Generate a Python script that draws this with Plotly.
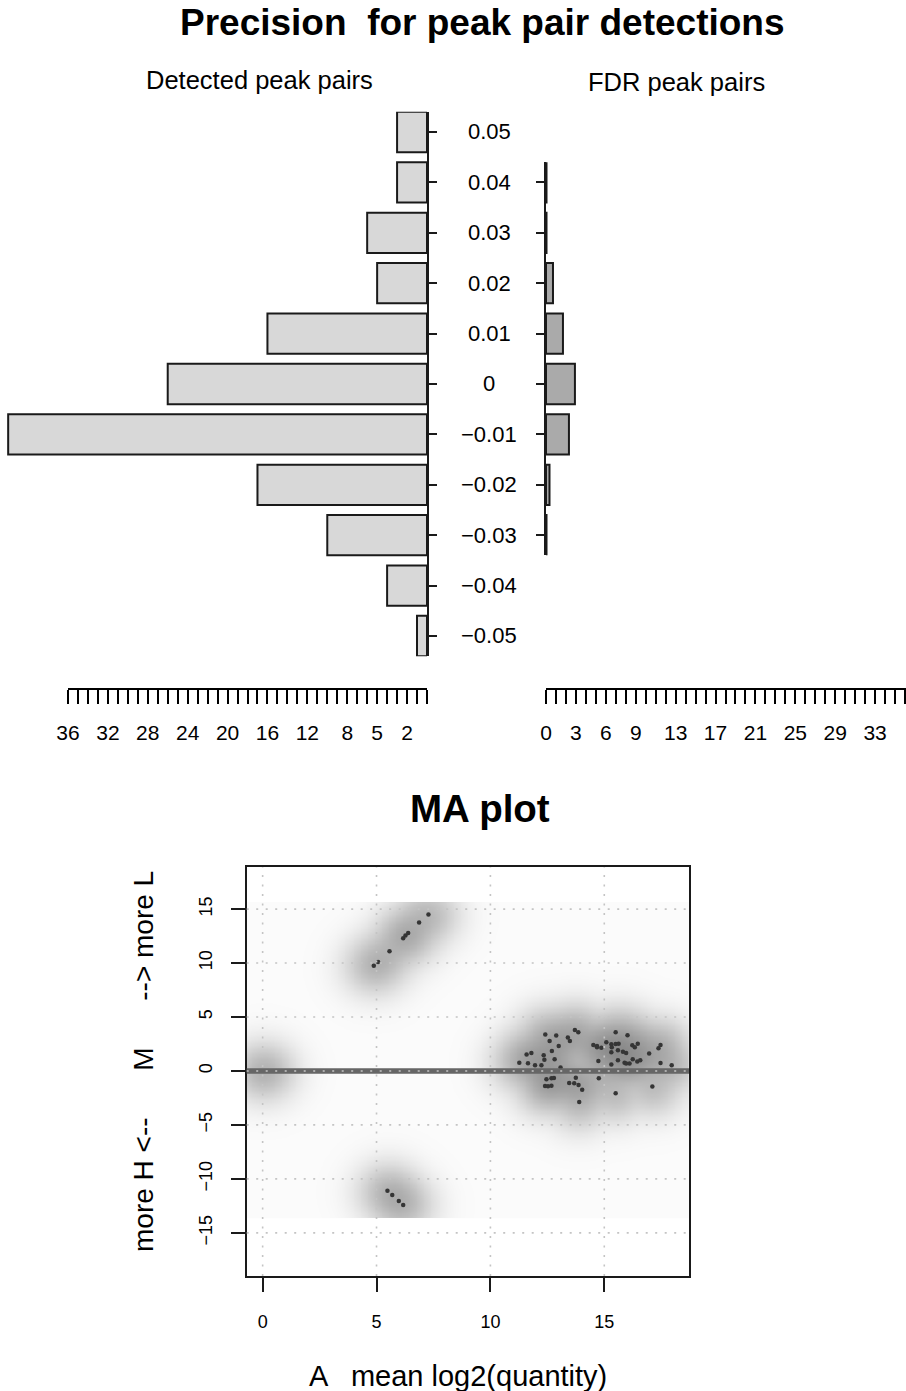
import numpy as np
import plotly.graph_objects as go

W, H = 906, 1391
def PX(p): return p / W
def PY(p): return 1 - p / H

# ---------------- data ----------------
bins = [0.05, 0.04, 0.03, 0.02, 0.01, 0.0, -0.01, -0.02, -0.03, -0.04, -0.05]
bin_labels = ["0.05", "0.04", "0.03", "0.02", "0.01", "0", "\u22120.01", "\u22120.02", "\u22120.03", "\u22120.04", "\u22120.05"]
detected_counts = [3, 3, 6, 5, 16, 26, 42, 17, 10, 4, 1]

fdr_bins = [0.04, 0.03, 0.02, 0.01, 0.0, -0.01, -0.02, -0.03]
fdr_counts = [0.05, 0.05, 0.7, 1.7, 2.9, 2.3, 0.35, 0.05]

left_ruler_labels = [36, 32, 28, 24, 20, 16, 12, 8, 5, 2]
right_ruler_labels = [0, 3, 6, 9, 13, 17, 21, 25, 29, 33]
ruler_max = 36

# MA plot points (A = mean log2 quantity, M)
ma_A = [4.88, 5.07, 5.57, 6.17, 6.27, 6.39, 6.87, 7.28,
        5.48, 5.69, 5.98, 6.17,
        12.41, 12.60, 12.89, 13.40, 13.49, 13.71, 13.86, 13.00, 12.70, 11.59,
        11.80, 12.34, 12.37, 12.82, 11.27, 11.65, 11.96, 12.24, 13.08, 12.46,
        12.68, 12.79, 13.75, 13.46, 13.68, 13.87, 14.03, 12.40, 12.53, 12.68,
        13.90, 14.52, 14.68, 14.74, 14.76,
        15.50, 16.02, 14.68, 14.87, 15.09, 15.31, 15.33, 15.50, 15.63, 15.31,
        15.60, 15.82, 15.96, 16.23, 16.34, 16.47, 17.38, 17.47, 16.97, 15.31,
        15.60, 15.89, 15.96, 16.11, 16.25, 16.45, 16.58, 17.47, 17.96, 17.11,
        15.50]
ma_M = [9.74, 10.10, 11.10, 12.30, 12.56, 12.78, 13.76, 14.50,
        -11.10, -11.50, -12.06, -12.43,
        3.37, 2.78, 3.28, 3.09, 2.78, 3.80, 3.59, 2.32, 1.86, 1.52,
        1.67, 1.45, 1.05, 1.08, 0.77, 0.71, 0.53, 0.53, 0.31, -0.77,
        -0.68, -0.65, -0.62, -1.11, -1.14, -1.30, -1.73, -1.39, -1.42, -1.36,
        -2.88, 2.41, 2.20, 0.93, -0.68,
        3.59, 3.31, 2.32, 2.16, 2.66, 2.48, 2.20, 2.50, 2.53, 1.73,
        1.92, 1.79, 1.67, 2.38, 2.20, 2.53, 2.10, 2.41, 1.61, 0.59,
        0.99, 0.77, 0.68, 0.68, 1.08, 0.87, 0.99, 0.74, 0.53, -1.45,
        -2.07]
# points hidden under the M = 0 line near A = 0
zero_A = [0.0, 0.1]
zero_M = [0.0, 0.0]

ma_xticks = [0, 5, 10, 15]
ma_yticks = [-15, -10, -5, 0, 5, 10, 15]
ma_xrange = [-0.7, 18.72]
ma_yrange = [-19.0, 18.9]

FONT = "Liberation Sans, Arial, sans-serif"

fig = go.Figure()

# ---------------- top: bars ----------------
bw = 0.008
fig.add_trace(go.Bar(y=bins, x=detected_counts, orientation="h", width=bw,
                     marker=dict(color="#d8d8d8", line=dict(color="#1a1a1a", width=2)),
                     xaxis="x", yaxis="y", showlegend=False, hoverinfo="skip"))
fig.add_trace(go.Bar(y=fdr_bins, x=fdr_counts, orientation="h", width=bw,
                     marker=dict(color="#aaaaaa", line=dict(color="#1a1a1a", width=2)),
                     xaxis="x2", yaxis="y2", showlegend=False, hoverinfo="skip"))
# ruler dummy traces
fig.add_trace(go.Scatter(x=[], y=[], xaxis="x3", yaxis="y3", showlegend=False))
fig.add_trace(go.Scatter(x=[], y=[], xaxis="x4", yaxis="y4", showlegend=False))

# y scale: 0.05 at 132 px, -0.05 at 636 px
ppu = (636 - 132) / 0.10
def ypix(v): return 132 + (0.05 - v) * ppu

l_top, l_bot = max(bins) + bw / 2, min(bins) - bw / 2
r_top, r_bot = max(fdr_bins) + bw / 2, min(fdr_bins) - bw / 2

# x scale: 0 at 427 px, 36 at 68 px (left); 0 at 546 px (right)
xppu = (427 - 68) / ruler_max
left_range_max = 427 / xppu
right_range_max = (W - 546) / xppu

ruler_ticks = list(range(0, ruler_max + 1))

layout = dict(
    width=W, height=H, margin=dict(l=0, r=0, t=0, b=0, autoexpand=False),
    paper_bgcolor="white", plot_bgcolor="rgba(0,0,0,0)",
    font=dict(family=FONT, color="black"),
    xaxis=dict(domain=[0, PX(427)], range=[left_range_max, 0], visible=False,
               automargin=False),
    yaxis=dict(domain=[PY(ypix(l_bot)), PY(ypix(l_top))], range=[l_bot, l_top], anchor="x",
               side="right", showline=True, linecolor="#1a1a1a", linewidth=2,
               ticks="outside", ticklen=8, tickwidth=2, tickcolor="#1a1a1a",
               tickvals=bins, showticklabels=False, showgrid=False, zeroline=False,
               automargin=False),
    xaxis2=dict(domain=[PX(546), 1], range=[0, right_range_max], visible=False, anchor="y2",
                automargin=False),
    yaxis2=dict(domain=[PY(ypix(r_bot)), PY(ypix(r_top))], range=[r_bot, r_top], anchor="x2",
                side="left", showline=True, linecolor="#1a1a1a", linewidth=2,
                ticks="outside", ticklen=8, tickwidth=2, tickcolor="#1a1a1a",
                tickvals=fdr_bins, showticklabels=False, showgrid=False, zeroline=False,
                automargin=False),
    xaxis3=dict(domain=[PX(68), PX(427)], range=[ruler_max, 0], anchor="y3",
                showline=True, linecolor="black", linewidth=1.5,
                ticks="outside", ticklen=14, tickwidth=1.5, tickcolor="black",
                tickvals=ruler_ticks,
                ticktext=[str(v) if v in left_ruler_labels else "" for v in ruler_ticks],
                tickfont=dict(size=21, family=FONT), ticklabelstandoff=11,
                showgrid=False, zeroline=False, automargin=False),
    yaxis3=dict(domain=[PY(688), PY(670)], visible=False, anchor="x3", automargin=False),
    xaxis4=dict(domain=[PX(546), 1], range=[0, right_range_max], anchor="y4",
                showline=True, linecolor="black", linewidth=1.5,
                ticks="outside", ticklen=14, tickwidth=1.5, tickcolor="black",
                tickvals=ruler_ticks,
                ticktext=[str(v) if v in right_ruler_labels else "" for v in ruler_ticks],
                tickfont=dict(size=21, family=FONT), ticklabelstandoff=11,
                showgrid=False, zeroline=False, automargin=False),
    yaxis4=dict(domain=[PY(688), PY(670)], visible=False, anchor="x4", automargin=False),
    xaxis5=dict(domain=[PX(246.7), PX(689)], range=ma_xrange, anchor="y5",
                showline=True, mirror=True, linecolor="#1a1a1a", linewidth=2,
                ticks="outside", ticklen=14, tickwidth=2, tickcolor="#1a1a1a",
                tickvals=ma_xticks, tickfont=dict(size=18, family=FONT),
                ticklabelstandoff=14, showgrid=False, zeroline=False, automargin=False),
    yaxis5=dict(domain=[PY(1276), PY(867)], range=ma_yrange, anchor="x5",
                showline=True, mirror=True, linecolor="#1a1a1a", linewidth=2,
                ticks="outside", ticklen=14, tickwidth=2, tickcolor="#1a1a1a",
                tickvals=ma_yticks, tickangle=-90, tickfont=dict(size=18, family=FONT),
                ticklabelstandoff=12, showgrid=False, zeroline=False, automargin=False),
)
fig.update_layout(**layout)

# ---------------- MA plot: smoothed density ----------------
allA = np.array(ma_A + zero_A)
allM = np.array(ma_M + zero_M)
bwA, bwM = 0.5, 1.0
gx = np.linspace(allA.min() - 1.0, allA.max() + 1.0, 260)
gy = np.linspace(allM.min() - 1.1, allM.max() + 1.1, 260)
GX, GY = np.meshgrid(gx, gy)
dens = np.zeros_like(GX)
for a, m in zip(allA, allM):
    dens += np.exp(-0.5 * ((GX - a) / bwA) ** 2 - 0.5 * ((GY - m) / bwM) ** 2)
z = (dens / dens.max()) ** 0.25
fig.add_trace(go.Heatmap(x=gx, y=gy, z=z, xaxis="x5", yaxis="y5", zmin=0, zmax=1,
                         colorscale=[[0, "#fbfbfb"], [1, "#8a8a8a"]], showscale=False,
                         zsmooth="best", hoverinfo="skip"))
fig.add_trace(go.Scatter(x=ma_A, y=ma_M, mode="markers", xaxis="x5", yaxis="y5",
                         marker=dict(size=4.5, color="#353535"), showlegend=False, hoverinfo="skip"))

shapes = []
# M = 0 line
shapes.append(dict(type="line", xref="x5 domain", yref="y5", x0=0, x1=1, y0=0, y1=0,
                   line=dict(color="#666666", width=5.5), layer="above"))
grid_line = dict(color="#c4c4c4", width=1.6, dash="2px,7.5px")
for v in ma_xticks:
    shapes.append(dict(type="line", xref="x5", yref="y5 domain", x0=v, x1=v, y0=0, y1=1,
                       line=grid_line, layer="above"))
for v in ma_yticks:
    shapes.append(dict(type="line", xref="x5 domain", yref="y5", x0=0, x1=1, y0=v, y1=v,
                       line=grid_line, layer="above"))
fig.update_layout(shapes=shapes)

# ---------------- texts ----------------
ann = []
for v, t in zip(bins, bin_labels):
    ann.append(dict(x=PX(489), xref="paper", y=v, yref="y", text=t, showarrow=False,
                    xanchor="center", yanchor="middle", font=dict(size=22, family=FONT)))
ann.append(dict(x=PX(483), y=PY(23), xref="paper", yref="paper", showarrow=False,
                text="<b>Precision  for peak pair detections</b>", xanchor="center", yanchor="middle",
                font=dict(size=37, family=FONT)))
ann.append(dict(x=PX(259), y=PY(80), xref="paper", yref="paper", showarrow=False,
                text="Detected peak pairs", xanchor="center", yanchor="middle",
                font=dict(size=25.5, family=FONT)))
ann.append(dict(x=PX(676), y=PY(82), xref="paper", yref="paper", showarrow=False,
                text="FDR peak pairs", xanchor="center", yanchor="middle",
                font=dict(size=25.5, family=FONT)))
ann.append(dict(x=PX(480), y=PY(808), xref="paper", yref="paper", showarrow=False,
                text="<b>MA plot</b>", xanchor="center", yanchor="middle",
                font=dict(size=38.5, family=FONT)))
ann.append(dict(x=PX(458), y=PY(1376), xref="paper", yref="paper", showarrow=False,
                text="A   mean log2(quantity)", xanchor="center", yanchor="middle",
                font=dict(size=29, family=FONT)))
ann.append(dict(x=PX(143), y=PY(1062), xref="paper", yref="paper", showarrow=False,
                text="more H <--      M      --> more L", textangle=-90,
                xanchor="center", yanchor="middle", font=dict(size=28, family=FONT)))
fig.update_layout(annotations=ann)

fig.write_html("out.html")
